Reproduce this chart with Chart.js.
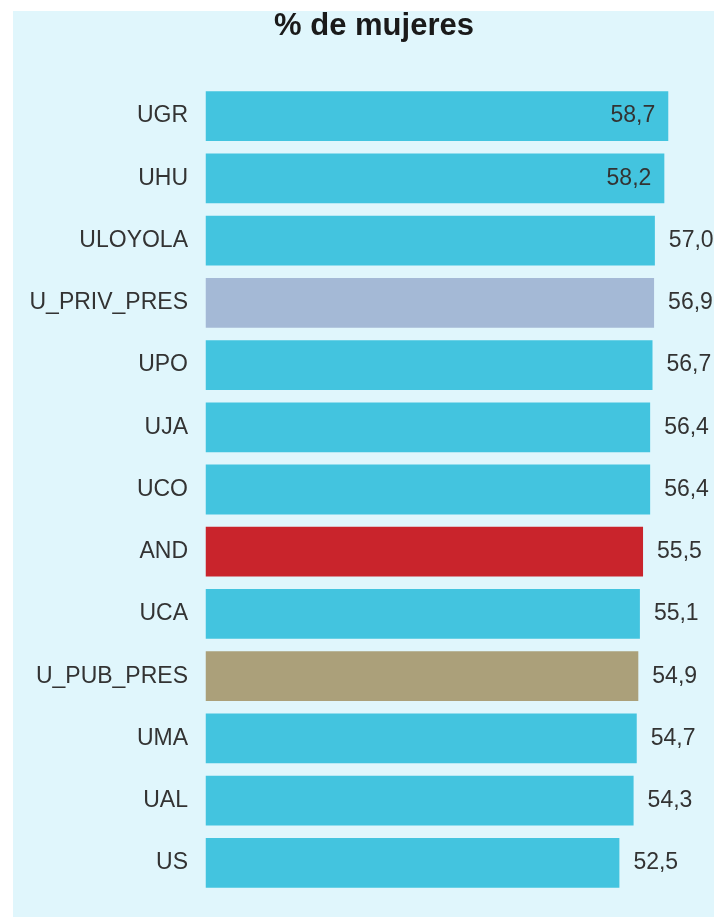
<!DOCTYPE html>
<html lang="es">
<head>
    <meta charset="UTF-8">
    <title>% de mujeres</title>
    <script src="https://cdn.jsdelivr.net/npm/chart.js"></script>
    <style>
        html, body { margin: 0; padding: 0; background: #ffffff; }
        #mujeresChart {
            position: absolute;
            left: 13px;
            top: 11px;
            background: #e0f6fc;
        }
    </style>
</head>
<body>
    <canvas id="mujeresChart" width="701" height="906"></canvas>

    <script>
        // datos
        const universidades = ['UGR', 'UHU', 'ULOYOLA', 'U_PRIV_PRES', 'UPO', 'UJA', 'UCO', 'AND', 'UCA', 'U_PUB_PRES', 'UMA', 'UAL', 'US'];
        const porcentajes = [58.7, 58.2, 57.0, 56.9, 56.7, 56.4, 56.4, 55.5, 55.1, 54.9, 54.7, 54.3, 52.5];
        const colores = ['#43c4df', '#43c4df', '#43c4df', '#a4b9d6', '#43c4df', '#43c4df', '#43c4df',
                         '#c9242c', '#43c4df', '#aba07a', '#43c4df', '#43c4df', '#43c4df'];

        const fuente = '"Liberation Sans", Arial, sans-serif';

        // etiquetas de valor (dentro de la barra si no caben fuera)
        const etiquetasValor = {
            id: 'etiquetasValor',
            afterDatasetsDraw(chart) {
                const ctx = chart.ctx;
                const meta = chart.getDatasetMeta(0);
                ctx.save();
                ctx.font = '23px ' + fuente;
                ctx.fillStyle = '#333333';
                ctx.textBaseline = 'middle';
                meta.data.forEach((bar, i) => {
                    const txt = porcentajes[i].toFixed(1).replace('.', ',');
                    const w = ctx.measureText(txt).width;
                    if (bar.x + 14 + w > chart.width + 2) {
                        ctx.textAlign = 'right';
                        ctx.fillText(txt, bar.x - 13, bar.y);
                    } else {
                        ctx.textAlign = 'left';
                        ctx.fillText(txt, bar.x + 14, bar.y);
                    }
                });
                ctx.restore();
            }
        };

        const ctx = document.getElementById('mujeresChart').getContext('2d');
        new Chart(ctx, {
            type: 'bar',
            data: {
                labels: universidades,
                datasets: [{
                    data: porcentajes,
                    backgroundColor: colores,
                    borderWidth: 0,
                    categoryPercentage: 1,
                    barPercentage: 0.8
                }]
            },
            options: {
                indexAxis: 'y',
                responsive: false,
                animation: false,
                // el título del original está centrado en un ancho mayor (recortado a la derecha)
                layout: { padding: { left: 0, right: -21, top: 0, bottom: 23 } },
                scales: {
                    x: {
                        display: false,
                        min: 0,
                        max: 64.5
                    },
                    y: {
                        grid: { display: false, drawTicks: false },
                        border: { display: false },
                        ticks: {
                            padding: 17.5,
                            color: '#333333',
                            font: { family: fuente, size: 23 }
                        },
                        afterFit(scale) {
                            scale.width = 192.5;
                            scale.paddingTop = 0;
                            scale.paddingBottom = 0;
                        }
                    }
                },
                plugins: {
                    legend: { display: false },
                    tooltip: { enabled: false },
                    title: {
                        display: true,
                        text: '% de mujeres',
                        color: '#1a1a1a',
                        font: { family: fuente, size: 31, weight: 'bold', lineHeight: 1.0 },
                        padding: { top: 0, bottom: 43 }
                    }
                }
            },
            plugins: [etiquetasValor]
        });
    </script>
</body>
</html>
